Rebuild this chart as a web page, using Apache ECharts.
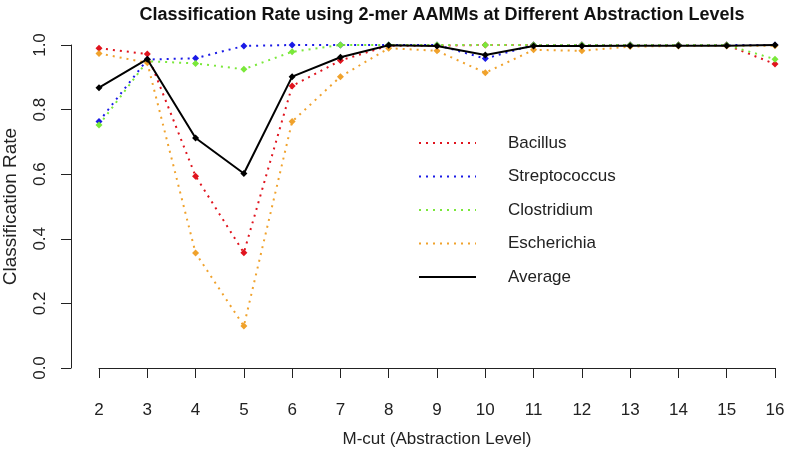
<!DOCTYPE html>
<html><head><meta charset="utf-8">
<script src="https://cdn.jsdelivr.net/npm/echarts@6/dist/echarts.min.js"></script>
<style>html,body{margin:0;padding:0;background:#fff}#c{width:788px;height:450px}</style>
</head><body><div id="c"></div>
<script>
const mcut = [2,3,4,5,6,7,8,9,10,11,12,13,14,15,16];
const bacillus      = [0.990,0.972,0.594,0.357,0.873,0.952,0.998,0.998,1.000,1.000,1.000,1.000,1.000,1.000,0.941];
const streptococcus = [0.763,0.955,0.959,0.997,1.000,1.000,1.000,1.000,0.958,1.000,1.000,1.000,1.000,1.000,1.000];
const clostridium   = [0.752,0.950,0.943,0.925,0.979,1.000,1.000,1.000,1.000,1.000,1.000,1.000,1.000,1.000,0.956];
const escherichia   = [0.974,0.945,0.356,0.130,0.763,0.902,0.990,0.982,0.914,0.985,0.982,0.995,0.997,0.997,0.998];
const average       = [0.868,0.956,0.712,0.602,0.902,0.962,0.999,0.997,0.969,0.997,0.997,0.998,0.998,0.998,1.000];
const yTicks = [0,0.2,0.4,0.6,0.8,1.0];
const names = ['Bacillus','Streptococcus','Clostridium','Escherichia','Average'];
const colors = ['#e0141e','#1a1ae6','#7ae83a','#f0a22c','#000000'];
const values = [bacillus, streptococcus, clostridium, escherichia, average];

const font = 'Liberation Sans, Arial, sans-serif';
const chart = echarts.init(document.getElementById('c'), null, {renderer:'canvas'});
chart.setOption({
  animation:false,
  backgroundColor:'#fff',
  title:{text:'Classification Rate using 2-mer AAMMs at Different Abstraction Levels',
    left:437, top:1, textAlign:'center',
    textStyle:{fontFamily:font,fontSize:18,fontWeight:'bold',color:'#111'}},
  grid:{left:99,right:13,top:45,bottom:82,outerBoundsMode:'none',containLabel:false},
  legend:{orient:'vertical',left:413,top:129.5,itemWidth:57,itemHeight:14,itemGap:16.5,
    data:names, itemStyle:{opacity:0},
    textStyle:{fontFamily:font,fontSize:17,color:'#222',padding:[0,0,0,27]}},
  xAxis:{type:'value',min:2,max:16,interval:1,offset:14,
    name:'M-cut (Abstraction Level)',nameLocation:'middle',nameGap:48.5,
    nameTextStyle:{fontFamily:font,fontSize:17,color:'#222'},
    axisLine:{lineStyle:{color:'#222',width:1}},
    axisTick:{length:10,lineStyle:{color:'#222'}},
    axisLabel:{margin:20,fontFamily:font,fontSize:17,color:'#222'},
    splitLine:{show:false}},
  yAxis:{type:'value',min:0,max:1,interval:0.2,offset:28,
    name:'Classification Rate',nameLocation:'middle',nameGap:51,
    nameTextStyle:{fontFamily:font,fontSize:19,color:'#222'},
    axisLine:{show:true,lineStyle:{color:'#222',width:1}},
    axisTick:{show:true,length:10,lineStyle:{color:'#222'}},
    axisLabel:{rotate:90,margin:22,fontFamily:font,fontSize:17,color:'#222',
      formatter:v=>yTicks.includes(+v.toFixed(1))?v.toFixed(1):''},
    splitLine:{show:false}},
  series: names.map((n,i)=>({
    name:n,type:'line',clip:false,
    data: mcut.map((x,j)=>[x, values[i][j]]),
    symbol:'diamond',symbolSize:7,showSymbol:true,
    itemStyle:{color:colors[i]},
    lineStyle:{color:colors[i],width:2,type: i===4?'solid':[2,5]},
    z: i===4?5:2
  }))
});
</script></body></html>
